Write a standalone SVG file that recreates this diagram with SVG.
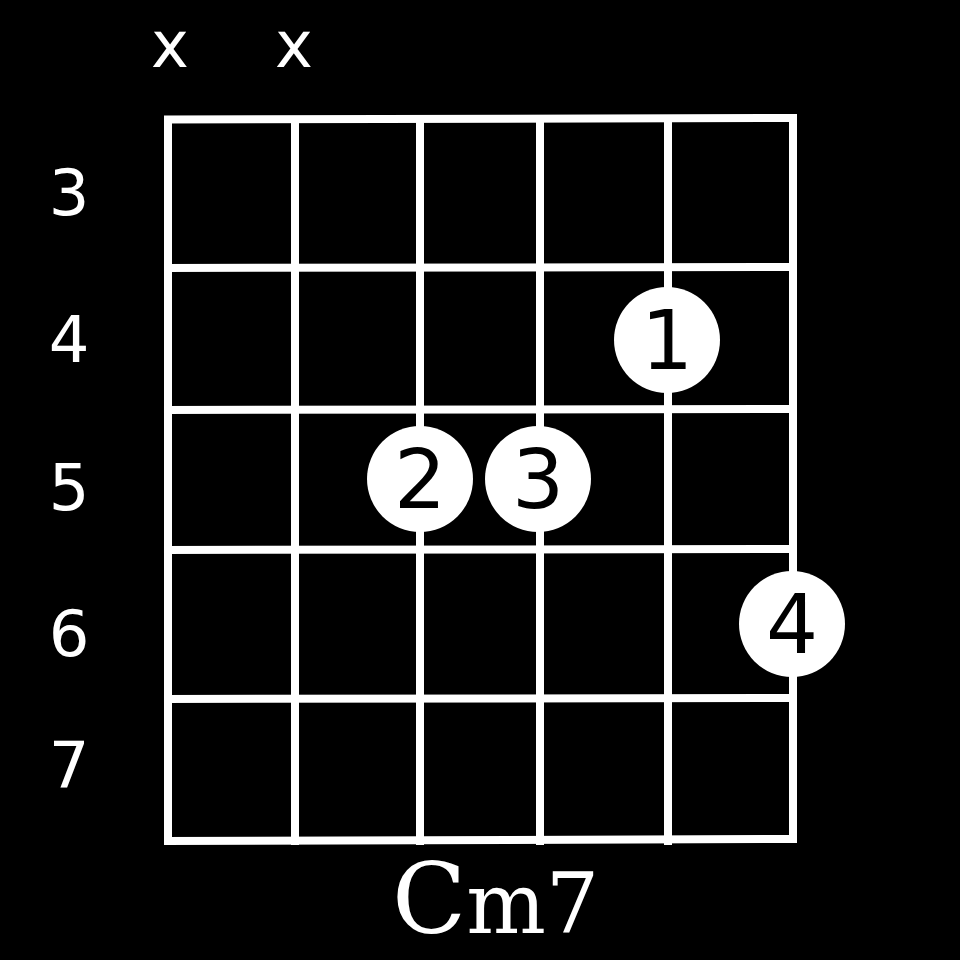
<svg xmlns="http://www.w3.org/2000/svg" width="960" height="960" viewBox="0 0 960 960">
<style>
.g{stroke:#fff;stroke-width:8;fill:none}
.lbl{font-family:"DejaVu Sans",sans-serif;font-size:64px;fill:#fff;text-anchor:middle}
.dot{fill:#fff}
.fn{font-family:"DejaVu Sans",sans-serif;font-size:82px;fill:#000;text-anchor:middle}
.title{font-family:"DejaVu Serif",serif;font-size:84px;fill:#fff}
</style>
<rect width="960" height="960" fill="#000"/>
<g id="grid">
<line class="g" x1="164" y1="119.5" x2="797" y2="118"/>
<line class="g" x1="164" y1="268" x2="797" y2="267"/>
<line class="g" x1="164" y1="410" x2="797" y2="409"/>
<line class="g" x1="164" y1="550" x2="797" y2="549"/>
<line class="g" x1="164" y1="699" x2="797" y2="698"/>
<line class="g" x1="164" y1="841" x2="797" y2="839"/>
<line class="g" x1="168" y1="116" x2="168" y2="845"/>
<line class="g" x1="295" y1="116" x2="295" y2="845"/>
<line class="g" x1="420" y1="116" x2="420" y2="845"/>
<line class="g" x1="540" y1="116" x2="540" y2="845"/>
<line class="g" x1="668" y1="116" x2="668" y2="845"/>
<line class="g" x1="793" y1="116" x2="793" y2="843"/>
</g>
<g id="muted">
<text class="lbl" x="170" y="67">x</text>
<text class="lbl" x="294" y="67">x</text>
</g>
<g id="frets">
<text class="lbl" x="69" y="215">3</text>
<text class="lbl" x="69" y="362">4</text>
<text class="lbl" x="69" y="510">5</text>
<text class="lbl" x="69" y="656">6</text>
<text class="lbl" x="69" y="788">7</text>
</g>
<g id="finger1"><circle class="dot" cx="667" cy="340" r="53"/><text class="fn" x="667" y="369">1</text></g>
<g id="finger2"><circle class="dot" cx="420" cy="479" r="53"/><text class="fn" x="420" y="508">2</text></g>
<g id="finger3"><circle class="dot" cx="538" cy="479" r="53"/><text class="fn" x="538" y="508">3</text></g>
<g id="finger4"><circle class="dot" cx="792" cy="624" r="53"/><text class="fn" x="792" y="653">4</text></g>
<g id="title"><text class="title" x="392" y="933"><tspan font-size="97">C</tspan>m7</text></g>
</svg>
